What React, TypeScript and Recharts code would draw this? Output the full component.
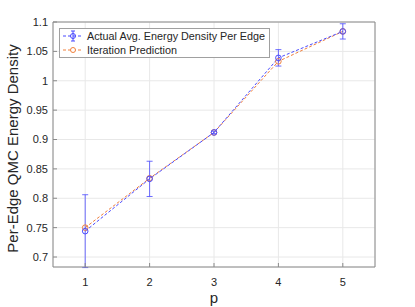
import React from 'react';
import { ComposedChart, Line, XAxis, YAxis, CartesianGrid, ErrorBar } from 'recharts';

const pValues = [1, 2, 3, 4, 5];
const actualValues = [0.744, 0.833, 0.912, 1.039, 1.084];
const actualErrors = [0.062, 0.03, 0.002, 0.014, 0.013];
const predictedValues = [0.75, 0.834, 0.912, 1.033, 1.084];
const xTicks = [1, 2, 3, 4, 5];
const yTicks = [0.7, 0.75, 0.8, 0.85, 0.9, 0.95, 1, 1.05, 1.1];
const seriesNames = ['Actual Avg. Energy Density Per Edge', 'Iteration Prediction'];

const data = pValues.map((p, i) => ({
  p,
  actual: actualValues[i],
  err: actualErrors[i],
  predicted: predictedValues[i],
}));

const BLUE = '#4a4aff';
const ORANGE = '#f0803c';
const AXIS = '#8a8a8a';
const TEXT = '#262626';
const FONT = '"Liberation Sans", Arial, Helvetica, sans-serif';

const fmt = (v: number) => String(Math.round(v * 100) / 100);

const LegendBox = () => (
  <div
    style={{
      position: 'absolute',
      left: 59,
      top: 28,
      border: '1px solid #a0a0a0',
      background: '#fff',
      fontFamily: FONT,
      fontSize: 10.8,
      color: TEXT,
      padding: '0px 4px 0px 2px',
      lineHeight: '14px',
      whiteSpace: 'nowrap',
    }}
  >
    <div style={{ display: 'flex', alignItems: 'center' }}>
      <svg width={22} height={14} style={{ marginRight: 3 }}>
        <line x1={1} y1={7} x2={21} y2={7} stroke={BLUE} strokeDasharray="3 2" />
        <line x1={11} y1={2} x2={11} y2={12} stroke={BLUE} />
        <line x1={9} y1={2} x2={13} y2={2} stroke={BLUE} />
        <line x1={9} y1={12} x2={13} y2={12} stroke={BLUE} />
        <circle cx={11} cy={7} r={2.5} fill="none" stroke={BLUE} />
      </svg>
      <span>{seriesNames[0]}</span>
    </div>
    <div style={{ display: 'flex', alignItems: 'center' }}>
      <svg width={22} height={14} style={{ marginRight: 3 }}>
        <line x1={1} y1={7} x2={21} y2={7} stroke={ORANGE} strokeDasharray="3 2" />
        <circle cx={11} cy={7} r={2.5} fill="#fff" stroke={ORANGE} />
      </svg>
      <span>{seriesNames[1]}</span>
    </div>
  </div>
);

const YLabel = (props: any) => {
  const vb = props.viewBox || { x: 0, y: 0, width: 0, height: 0 };
  const cx = vb.x + 12;
  const cy = vb.y + vb.height / 2 + 4;
  return (
    <text
      x={cx}
      y={cy}
      transform={`rotate(-90, ${cx}, ${cy})`}
      textAnchor="middle"
      dominantBaseline="central"
      fontFamily={FONT}
      fontSize={15}
      fill={TEXT}
    >
      Per-Edge QMC Energy Density
    </text>
  );
};

export default function App() {
  return (
    <div style={{ position: 'absolute', left: 0, top: 0, width: 415, height: 307, background: '#fff' }}>
      <ComposedChart width={415} height={307} data={data} margin={{ top: 21, right: 39, left: 0, bottom: 0 }}>
        <CartesianGrid xAxisId="b" yAxisId="l" stroke="#e8e8e8" horizontal vertical />
        <XAxis
          xAxisId="b"
          dataKey="p"
          type="number"
          domain={[0.5, 5.5]}
          ticks={xTicks}
          height={40}
          stroke={AXIS}
          tickSize={-4}
          tickMargin={15}
          tick={{ fill: TEXT, fontSize: 11, fontFamily: FONT }}
          label={{ value: 'p', position: 'insideBottom', offset: 4, fill: TEXT, fontSize: 15, fontFamily: FONT }}
        />
        <XAxis
          xAxisId="t"
          orientation="top"
          dataKey="p"
          type="number"
          domain={[0.5, 5.5]}
          ticks={xTicks}
          height={1}
          stroke={AXIS}
          tickSize={-4}
          tick={false}
        />
        <YAxis
          yAxisId="l"
          type="number"
          domain={[0.683, 1.1]}
          allowDataOverflow
          ticks={yTicks}
          width={53}
          stroke={AXIS}
          tickSize={-4}
          tickMargin={9}
          tickFormatter={fmt}
          tick={{ fill: TEXT, fontSize: 11, fontFamily: FONT }}
          label={{ content: YLabel }}
        />
        <YAxis
          yAxisId="r"
          orientation="right"
          type="number"
          domain={[0.683, 1.1]}
          allowDataOverflow
          ticks={yTicks}
          width={1}
          stroke={AXIS}
          tickSize={-4}
          tick={false}
        />
        <Line
          xAxisId="b"
          yAxisId="l"
          dataKey="predicted"
          stroke={ORANGE}
          strokeWidth={1}
          strokeDasharray="3 2"
          dot={{ r: 2.8, fill: 'none', stroke: ORANGE, strokeWidth: 1, strokeDasharray: '' }}
          isAnimationActive={false}
        />
        <Line
          xAxisId="b"
          yAxisId="l"
          dataKey="actual"
          stroke={BLUE}
          strokeWidth={1}
          strokeDasharray="3 2"
          dot={{ r: 2.8, fill: 'none', stroke: BLUE, strokeWidth: 1, strokeDasharray: '' }}
          isAnimationActive={false}
        >
          <ErrorBar dataKey="err" direction="y" width={3} stroke={BLUE} strokeWidth={1} strokeOpacity={0.8} />
        </Line>
      </ComposedChart>
      <LegendBox />
    </div>
  );
}
